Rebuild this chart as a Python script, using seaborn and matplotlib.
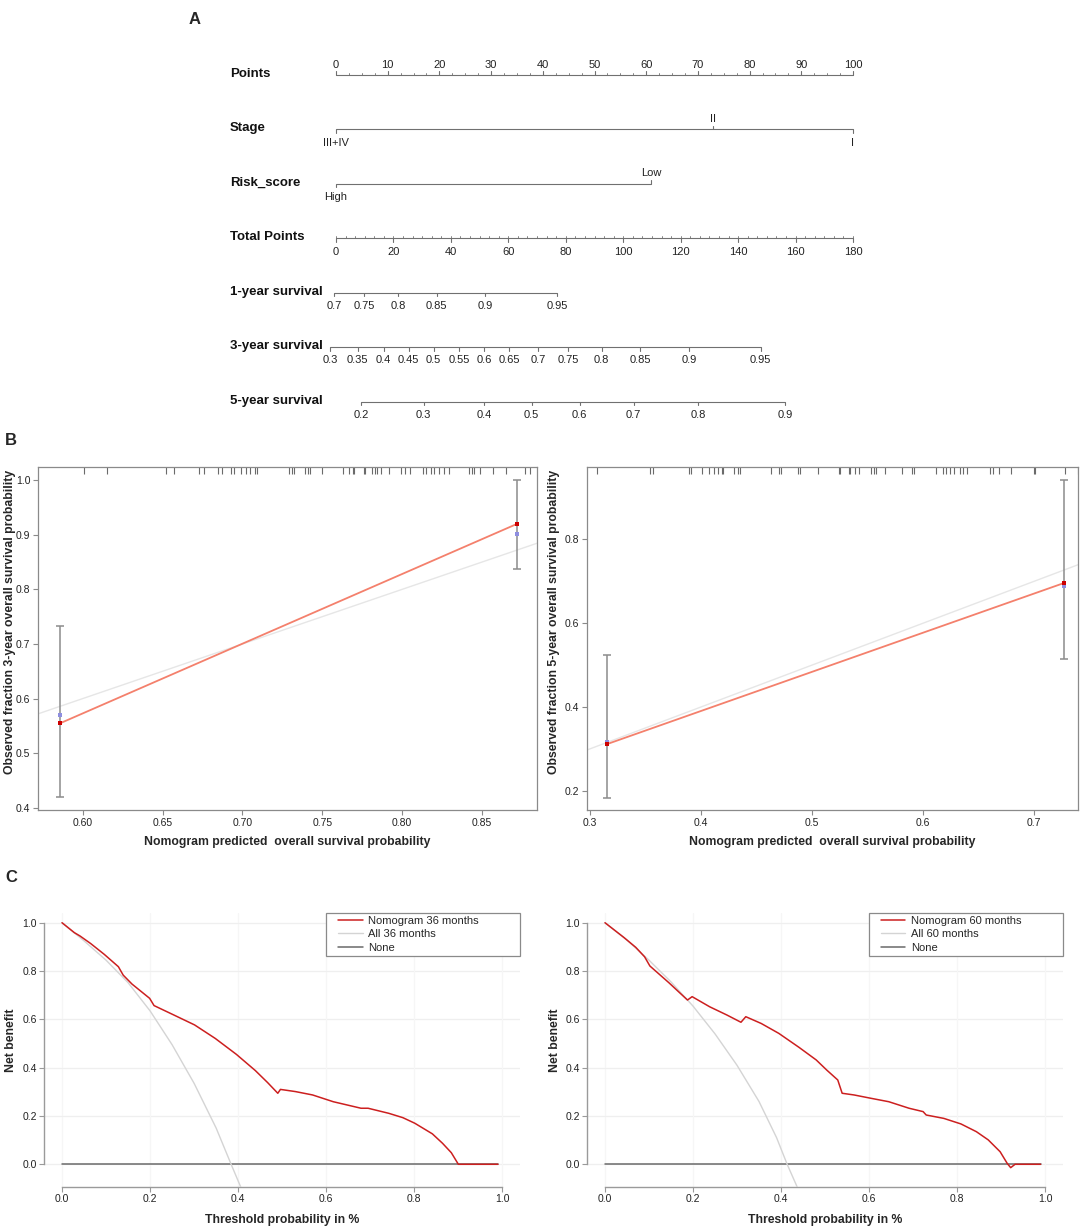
import numpy as np
import pandas as pd
import matplotlib
matplotlib.use("Agg")
import matplotlib.pyplot as plt
from matplotlib.lines import Line2D
from matplotlib.legend_handler import HandlerLine2D
import seaborn as sns

sns.set_style("white")
plt.rcParams['font.family'] = ['Liberation Sans', 'DejaVu Sans']

# ---------------- A: nomogram scales (point positions)
points_ticks = [0, 10, 20, 30, 40, 50, 60, 70, 80, 90, 100]
stage_labels = ["III+IV", "II", "I"]
stage_points = [0, 73, 100]
risk_labels = ["High", "Low"]
risk_points = [0, 61]
total_ticks = [0, 20, 40, 60, 80, 100, 120, 140, 160, 180]
surv1_labels = ["0.7", "0.75", "0.8", "0.85", "0.9", "0.95"]
surv1_total = [-0.7, 9.8, 21.7, 35.1, 51.9, 77.1]
surv3_labels = ["0.3", "0.35", "0.4", "0.45", "0.5", "0.55", "0.6", "0.65",
                "0.7", "0.75", "0.8", "0.85", "0.9", "0.95"]
surv3_total = [-2.1, 7.5, 16.6, 25.3, 34.0, 42.8, 51.5, 60.3, 70.4, 80.8,
               92.5, 105.9, 122.9, 147.9]
surv5_labels = ["0.2", "0.3", "0.4", "0.5", "0.6", "0.7", "0.8", "0.9"]
surv5_total = [8.8, 30.5, 51.5, 68.1, 84.8, 103.6, 126.2, 156.4]
row_names = ["Points", "Stage", "Risk_score", "Total Points",
             "1-year survival", "3-year survival", "5-year survival"]

# ---------------- B: calibration
ideal = [0.0, 1.0]
cal3_pred = [0.586, 0.872]
cal3_obs = [0.555, 0.920]
cal3_lo = [0.419, 0.838]
cal3_hi = [0.733, 1.000]
cal3_bc = [0.570, 0.901]
rug3 = [0.601, 0.615, 0.652, 0.657, 0.673, 0.676, 0.685, 0.687, 0.693, 0.695,
        0.699, 0.702, 0.705, 0.708, 0.709, 0.729, 0.731, 0.732, 0.739, 0.741,
        0.742, 0.750, 0.763, 0.767, 0.769, 0.770, 0.776, 0.777, 0.781, 0.783,
        0.784, 0.787, 0.792, 0.799, 0.802, 0.805, 0.813, 0.815, 0.818, 0.820,
        0.823, 0.826, 0.829, 0.842, 0.844, 0.845, 0.849, 0.857, 0.865, 0.877,
        0.880]
cal5_pred = [0.315, 0.727]
cal5_obs = [0.311, 0.696]
cal5_lo = [0.183, 0.515]
cal5_hi = [0.523, 0.942]
cal5_bc = [0.317, 0.690]
rug5 = [0.306, 0.354, 0.357, 0.389, 0.391, 0.401, 0.407, 0.412, 0.415, 0.419,
        0.420, 0.430, 0.433, 0.435, 0.463, 0.470, 0.472, 0.487, 0.489, 0.505,
        0.524, 0.525, 0.533, 0.534, 0.539, 0.542, 0.553, 0.556, 0.558, 0.566,
        0.581, 0.590, 0.592, 0.612, 0.618, 0.621, 0.624, 0.628, 0.633, 0.636,
        0.640, 0.660, 0.663, 0.668, 0.679, 0.700, 0.701, 0.728, 0.740]

# ---------------- C: decision curves
dca36_thr = [0, 0.028, 0.041, 0.065, 0.096, 0.128, 0.139, 0.159, 0.199, 0.209,
             0.254, 0.301, 0.348, 0.396, 0.439, 0.467, 0.490, 0.496, 0.530,
             0.569, 0.616, 0.679, 0.695, 0.742, 0.774, 0.801, 0.841, 0.864,
             0.884, 0.900, 0.990]
dca36_nb = [1.0, 0.959, 0.945, 0.914, 0.869, 0.818, 0.783, 0.746, 0.687, 0.657,
            0.618, 0.577, 0.521, 0.455, 0.388, 0.338, 0.294, 0.310, 0.301,
            0.287, 0.259, 0.232, 0.232, 0.211, 0.193, 0.170, 0.126, 0.087,
            0.048, 0.0, 0.0]
all36_thr = [0, 0.05, 0.10, 0.15, 0.20, 0.25, 0.30, 0.35, 0.384, 0.406]
all36_nb = [1.0, 0.925, 0.845, 0.752, 0.635, 0.495, 0.335, 0.150, 0.0, -0.095]
dca60_thr = [0, 0.043, 0.070, 0.090, 0.102, 0.145, 0.1875, 0.198, 0.238, 0.277,
             0.309, 0.320, 0.355, 0.395, 0.441, 0.480, 0.504, 0.529, 0.539,
             0.566, 0.605, 0.645, 0.691, 0.723, 0.730, 0.770, 0.809, 0.844,
             0.871, 0.898, 0.914, 0.922, 0.932, 0.990]
dca60_nb = [1.0, 0.939, 0.898, 0.859, 0.821, 0.752, 0.680, 0.694, 0.652, 0.618,
            0.588, 0.611, 0.583, 0.542, 0.484, 0.432, 0.390, 0.349, 0.294,
            0.287, 0.273, 0.259, 0.232, 0.218, 0.204, 0.190, 0.167, 0.135,
            0.101, 0.052, 0.004, -0.014, 0.0, 0.0]
all60_thr = [0, 0.05, 0.10, 0.15, 0.20, 0.25, 0.30, 0.35, 0.39, 0.414, 0.437]
all60_nb = [1.0, 0.928, 0.845, 0.755, 0.655, 0.540, 0.410, 0.260, 0.110, 0.0, -0.095]
none_thr = [0, 0.990]
none_nb = [0.0, 0.0]

W, H = 1084, 1231
fig = plt.figure(figsize=(W / 100, H / 100), dpi=100)


def px_axes(left, top, right, bottom):
    return fig.add_axes([left / W, 1 - bottom / H, (right - left) / W, (bottom - top) / H])


#### A nomogram
axA = px_axes(336, 20.55, 853, 428.9)
axA.set_xlim(0, 100)
axA.set_ylim(6.5, -1)
axA.axis('off')
row_px = 54.45
line_col = '#707070'


def draw_scale(row, pos, labels, sides, minor=None):
    pos = np.asarray(pos, float)
    axA.plot([pos.min(), pos.max()], [row, row], color=line_col, lw=0.8,
             clip_on=False, solid_capstyle='butt')
    if minor is not None:
        for m in minor:
            axA.plot([m, m], [row, row - 2 / row_px], color=line_col, lw=0.6, clip_on=False)
    for p, lab, s in zip(pos, labels, sides):
        axA.plot([p, p], [row, row + s * 3.5 / row_px], color=line_col, lw=0.8, clip_on=False)
        off = -9.5 if s > 0 else 7.5
        axA.annotate(lab, (p, row), xytext=(0, off), textcoords='offset points',
                     ha='center', va='center', fontsize=8, color='#222222',
                     annotation_clip=False)


draw_scale(0, points_ticks, [str(t) for t in points_ticks], [-1] * len(points_ticks),
           minor=np.arange(0, 100.1, 2.5))
draw_scale(1, stage_points, stage_labels, [1, -1, 1])
draw_scale(2, risk_points, risk_labels, [1, -1])
tp_scale = 100 / 180
draw_scale(3, np.array(total_ticks) * tp_scale, [str(t) for t in total_ticks],
           [1] * len(total_ticks), minor=np.arange(0, 180.1, 20 / 6) * tp_scale)
draw_scale(4, np.array(surv1_total) * tp_scale, surv1_labels, [1] * len(surv1_labels))
draw_scale(5, np.array(surv3_total) * tp_scale, surv3_labels, [1] * len(surv3_labels))
draw_scale(6, np.array(surv5_total) * tp_scale, surv5_labels, [1] * len(surv5_labels))
for i, name in enumerate(row_names):
    axA.text(-0.205, i - 0.02, name, transform=axA.get_yaxis_transform(),
             ha='left', va='center', fontsize=9.5, fontweight='bold', color='#111111')

#### B calibration
frame_col = '#8a8a8a'


def calib_panel(ax, pred, obs, lo, hi, bc, rug, xlim, ylim, xticks, xlabs,
                yticks, ylabs, ylab, box_h):
    ax.set_xlim(*xlim)
    ax.set_ylim(*ylim)
    ax.plot(ideal, ideal, color='#e6e6e6', lw=1.0, zorder=1)
    ax.errorbar(pred, obs, yerr=[np.subtract(obs, lo), np.subtract(hi, obs)],
                fmt='none', ecolor='#8c8c8c', elinewidth=1.1, capsize=3,
                capthick=1.1, zorder=2)
    sns.lineplot(x=pred, y=obs, ax=ax, color='#f4806c', lw=1.3, zorder=3)
    sns.scatterplot(x=pred, y=bc, ax=ax, color='#8e8ee0', marker='s', s=5,
                    linewidth=0, zorder=4)
    sns.scatterplot(x=pred, y=obs, ax=ax, color='#cc0000', marker='s', s=7,
                    linewidth=0, zorder=5)
    ax.vlines(rug, 1 - 7 / box_h, 1, transform=ax.get_xaxis_transform(),
              color='#6a6a6a', lw=0.8)
    for sp in ax.spines.values():
        sp.set_visible(True)
        sp.set_color(frame_col)
        sp.set_linewidth(0.9)
    ax.set_xticks(xticks, xlabs)
    ax.set_yticks(yticks, ylabs)
    ax.tick_params(direction='out', length=3.5, width=0.8, color=frame_col,
                   labelsize=7.5, labelcolor='#222222', pad=2,
                   bottom=True, left=True)
    ax.set_xlabel("Nomogram predicted  overall survival probability",
                  fontsize=8.8, fontweight='bold')
    ax.xaxis.set_label_coords(0.5, -26 / box_h)
    ax.set_ylabel(ylab, fontsize=8.8, fontweight='bold')


axB1 = px_axes(38, 467, 537, 810)
calib_panel(axB1, cal3_pred, cal3_obs, cal3_lo, cal3_hi, cal3_bc, rug3,
            (0.572, 0.8844), (0.396, 1.024),
            [0.60, 0.65, 0.70, 0.75, 0.80, 0.85],
            ["0.60", "0.65", "0.70", "0.75", "0.80", "0.85"],
            [0.4, 0.5, 0.6, 0.7, 0.8, 0.9, 1.0],
            ["0.4", "0.5", "0.6", "0.7", "0.8", "0.9", "1.0"],
            "Observed fraction 3-year overall survival probability", 343)
axB1.yaxis.set_label_coords((16 - 38) / 499, 0.548)

axB2 = px_axes(587, 467, 1078, 810)
calib_panel(axB2, cal5_pred, cal5_obs, cal5_lo, cal5_hi, cal5_bc, rug5,
            (0.2973, 0.7396), (0.154, 0.973),
            [0.3, 0.4, 0.5, 0.6, 0.7], ["0.3", "0.4", "0.5", "0.6", "0.7"],
            [0.2, 0.4, 0.6, 0.8], ["0.2", "0.4", "0.6", "0.8"],
            "Observed fraction 5-year overall survival probability", 343)
axB2.yaxis.set_label_coords((560 - 587) / 491, 0.548)

#### C decision curves
axis_col = '#9a9a9a'


def dca_panel(ax, thr, nb, athr, anb, months, ylab_x):
    ax.set_xlim(-0.04, 1.04)
    ax.set_ylim(-0.092, 1.042)
    grid = [0.0, 0.2, 0.4, 0.6, 0.8, 1.0]
    for g in grid:
        ax.axhline(g, color='#efefef', lw=0.9, zorder=0)
        ax.axvline(g, color='#f6f6f6', lw=0.9, zorder=0)
    none_df = pd.DataFrame({'thr': none_thr, 'nb': none_nb})
    all_df = pd.DataFrame({'thr': athr, 'nb': anb})
    nom_df = pd.DataFrame({'thr': thr, 'nb': nb})
    sns.lineplot(data=none_df, x='thr', y='nb', ax=ax, color='#6a6a6a', lw=1.1,
                 label='None', sort=False, zorder=2)
    sns.lineplot(data=all_df, x='thr', y='nb', ax=ax, color='#d4d4d4', lw=1.0,
                 label='All %d months' % months, sort=False, zorder=3)
    sns.lineplot(data=nom_df, x='thr', y='nb', ax=ax, color='#cc1f1f', lw=1.1,
                 label='Nomogram %d months' % months, sort=False, zorder=4)
    for s in ['top', 'right']:
        ax.spines[s].set_visible(False)
    for s in ['left', 'bottom']:
        ax.spines[s].set_visible(True)
        ax.spines[s].set_color(axis_col)
        ax.spines[s].set_linewidth(1.0)
        ax.spines[s].set_bounds(0, 1)
    ax.set_xticks(grid, ["0.0", "0.2", "0.4", "0.6", "0.8", "1.0"])
    ax.set_yticks(grid, ["0.0", "0.2", "0.4", "0.6", "0.8", "1.0"])
    ax.tick_params(direction='out', length=3.5, width=0.8, color=axis_col,
                   labelsize=7.5, labelcolor='#222222', pad=2,
                   bottom=True, left=True)
    ax.set_xlabel("Threshold probability in %", fontsize=8.8, fontweight='bold')
    ax.xaxis.set_label_coords(0.5, -28 / 274)
    ax.set_ylabel("Net benefit", fontsize=8.8, fontweight='bold')
    ax.yaxis.set_label_coords(ylab_x, 0.535)
    h, l = ax.get_legend_handles_labels()
    order = [2, 1, 0]
    ax.legend([h[i] for i in order], [l[i] for i in order],
              loc='upper left', bbox_to_anchor=(0.592, 0, 0.408, 1.0),
              mode='expand', borderaxespad=0, fancybox=False,
              edgecolor='#8a8a8a', framealpha=1, fontsize=8,
              labelspacing=0.3, borderpad=0.3, handlelength=3.0,
              handletextpad=0.5,
              handler_map={Line2D: HandlerLine2D(xpad=0.8)})
    ax.get_legend().get_frame().set_linewidth(0.9)


axC1 = px_axes(44.4, 912.6, 520, 1186.5)
dca_panel(axC1, dca36_thr, dca36_nb, all36_thr, all36_nb, 36, (17 - 44.4) / 475.6)
axC2 = px_axes(587.4, 912.6, 1062.6, 1186.5)
dca_panel(axC2, dca60_thr, dca60_nb, all60_thr, all60_nb, 60, (561 - 587.4) / 475.2)

# panel letters
fig.text(195 / W, 1 - 20 / H, "A", ha='center', va='center', fontsize=12, fontweight='bold')
fig.text(11 / W, 1 - 440 / H, "B", ha='center', va='center', fontsize=12, fontweight='bold')
fig.text(11 / W, 1 - 878 / H, "C", ha='center', va='center', fontsize=12, fontweight='bold')

fig.savefig("out.png", dpi=100)
